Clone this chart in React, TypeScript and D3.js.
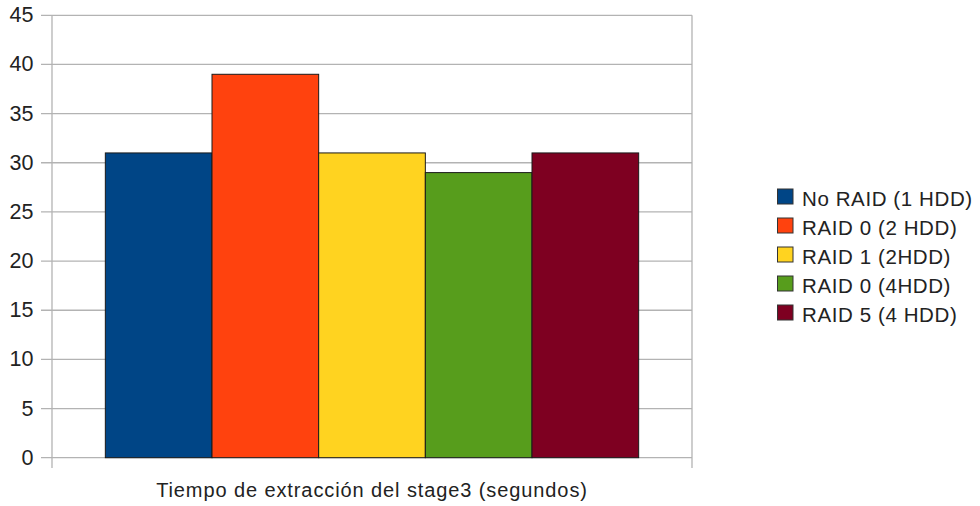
import React from "react";
import * as d3 from "d3";

const categories = ["Tiempo de extracción del stage3 (segundos)"];
const seriesNames = [
  "No RAID (1 HDD)",
  "RAID 0 (2 HDD)",
  "RAID 1 (2HDD)",
  "RAID 0 (4HDD)",
  "RAID 5 (4 HDD)",
];
const seriesValues = [31, 39, 31, 29, 31];
const seriesColors = ["#004586", "#ff420e", "#ffd320", "#579d1c", "#7e0021"];
const yTicks = [0, 5, 10, 15, 20, 25, 30, 35, 40, 45];

const W = 980;
const H = 506;
const left = 52;
const right = 692;
const top = 15.3;
const bottom = 457.7;
const font = "'Liberation Sans', Arial, sans-serif";

export default function App() {
  const y = d3.scaleLinear().domain([0, 45]).range([bottom, top]);
  const x0 = d3.scaleBand<string>().domain(categories).range([left, right]);
  const x1 = d3
    .scaleBand<string>()
    .domain(seriesNames)
    .range([0, x0.bandwidth()])
    .paddingInner(0)
    .paddingOuter(0.5);

  return (
    <svg
      width={W}
      height={H}
      style={{ position: "absolute", left: 0, top: 0, background: "#fff" }}
      fontFamily={font}
    >
      {yTicks.map((t) => (
        <g key={t}>
          <line x1={41} x2={right} y1={y(t)} y2={y(t)} stroke="#b3b3b3" strokeWidth={1.3} />
          <text
            x={33.5}
            y={y(t)}
            textAnchor="end"
            dominantBaseline="central"
            fontSize={21.5}
            fill="#222"
          >
            {t}
          </text>
        </g>
      ))}
      <line x1={left} x2={left} y1={top} y2={468} stroke="#b3b3b3" strokeWidth={1.3} />
      <line x1={right} x2={right} y1={top} y2={468} stroke="#b3b3b3" strokeWidth={1.3} />
      {categories.map((c) => (
        <g key={c} transform={`translate(${x0(c)},0)`}>
          {seriesNames.map((s, i) => (
            <rect
              key={s}
              x={x1(s)}
              y={y(seriesValues[i])}
              width={x1.bandwidth()}
              height={y(0) - y(seriesValues[i])}
              fill={seriesColors[i]}
              stroke="#1a1a1a"
              strokeWidth={1}
            />
          ))}
          <text
            x={x0.bandwidth() / 2}
            y={497}
            textAnchor="middle"
            fontSize={20}
            letterSpacing={0.9}
            fill="#222"
          >
            {c}
          </text>
        </g>
      ))}
      {seriesNames.map((s, i) => (
        <g key={s} transform={`translate(0,${196.5 + i * 29})`}>
          <rect x={777.5} y={-7.5} width={15.5} height={15} fill={seriesColors[i]} stroke="#333" strokeWidth={1} />
          <text x={802} y={9.5} fontSize={20.5} letterSpacing={0.6} fill="#222">
            {s}
          </text>
        </g>
      ))}
    </svg>
  );
}
